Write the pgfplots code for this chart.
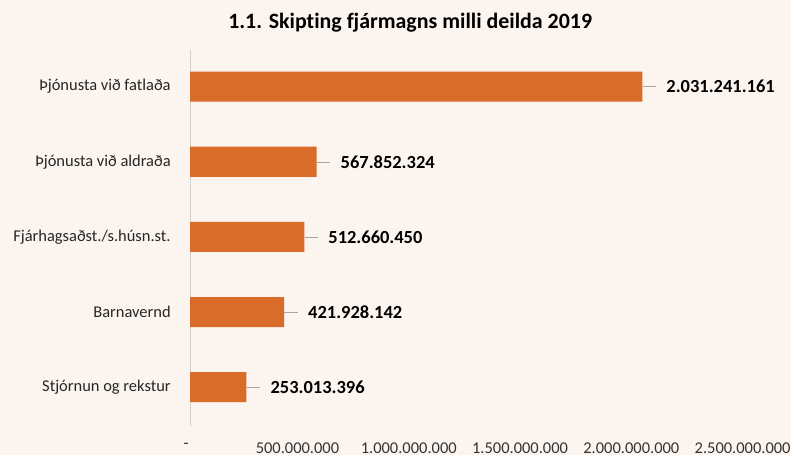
\documentclass[border=0pt]{standalone}
\usepackage{pgfplots}
\pgfplotsset{compat=1.18}
\usepackage{fontspec}
\setmainfont[Ligatures=NoCommon]{Carlito}
\definecolor{bgcream}{RGB}{252,245,239}
\definecolor{barorange}{RGB}{217,108,40}
\definecolor{leadgray}{RGB}{165,165,165}
\definecolor{axisgray}{RGB}{210,207,204}
\begin{document}
\begin{tikzpicture}
\fill[bgcream] (0pt,0pt) rectangle (596.25pt,342.75pt);
\node[font=\bfseries\fontsize{16.5}{19}\selectfont] at (309pt,325.5pt) {1.1. Skipting fjármagns milli deilda 2019};
\begin{axis}[
  at={(143.25pt,21.75pt)}, anchor=south west,
  scale only axis, width=419.25pt, height=283.5pt,
  xbar, bar width=0.4,
  xmin=0, xmax=2500000000,
  ymin=-0.517, ymax=4.49,
  axis lines=left,
  axis x line*=bottom,
  x axis line style={draw=none},
  y axis line style={draw=axisgray, line width=0.8pt, -},
  xtick={0,500000000,1000000000,1500000000,2000000000,2500000000},
  xticklabels={-,500.000.000,1.000.000.000,1.500.000.000,2.000.000.000,2.500.000.000},
  xtick style={draw=none}, ytick style={draw=none},
  xticklabel style={font=\fontsize{12.4}{14}\selectfont, text=black!80, yshift=-7pt, xshift=-3pt},
  ytick={0,1,2,3,4},
  yticklabels={Stjórnun og rekstur,Barnavernd,Fjárhagsaðst./s.húsn.st.,Þjónusta við aldraða,Þjónusta við fatlaða},
  yticklabel style={font=\fontsize{12.4}{14}\selectfont, text=black!85, xshift=-9pt},
  scaled x ticks=false,
  point meta=explicit symbolic,
  nodes near coords={\textcolor{leadgray}{\rule[0.3em]{10pt}{0.7pt}}\hspace{8pt}\pgfplotspointmeta},
  every node near coord/.append style={anchor=west, inner sep=0pt, font=\bfseries\fontsize{13.9}{16}\selectfont, text=black},
  clip=false,
]
\addplot[fill=barorange, draw=none] coordinates {
  (253013396,0) [253.013.396]
  (421928142,1) [421.928.142]
  (512660450,2) [512.660.450]
  (567852324,3) [567.852.324]
  (2031241161,4) [2.031.241.161]
};
\end{axis}
\end{tikzpicture}
\end{document}
